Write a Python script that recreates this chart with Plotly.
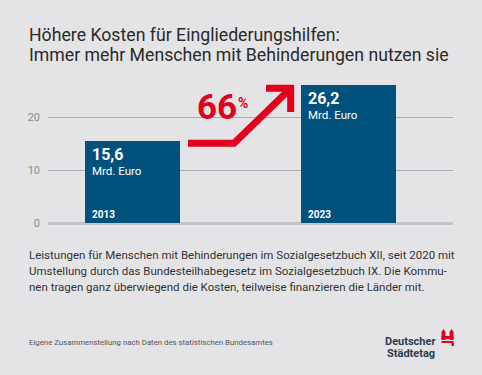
import plotly.graph_objects as go

# ---- data ----
years = [2013, 2023]
values = [15.6, 26.2]
value_labels = ["15,6", "26,2"]
unit_label = "Mrd. Euro"
change_label = "66"
y_ticks = [0, 10, 20]

title_lines = ["Höhere Kosten für Eingliederungshilfen:",
               "Immer mehr Menschen mit Behinderungen nutzen sie"]
body_lines = ["Leistungen für Menschen mit Behinderungen im Sozialgesetzbuch XII, seit 2020 mit",
              "Umstellung durch das Bundesteilhabegesetz im Sozialgesetzbuch IX. Die Kommu-",
              "nen tragen ganz überwiegend die Kosten, teilweise finanzieren die Länder mit."]
source_text = "Eigene Zusammenstellung nach Daten des statistischen Bundesamtes"

# ---- style ----
BG = "#e4e4e7"
BAR = "#00517b"
RED = "#e2001a"
FONT = "Roboto"
W, H = 482, 375
ML, MR, MT, MB = 48, 29, 75, 152
BAR_W = 4.41
XR = [2009.083, 2027.82]
YR = [0, 28]

def px_x(px):
    return (px - ML) / (W - ML - MR)

def px_y(py):
    return (H - MB - py) / (H - MT - MB)

fig = go.Figure()
fig.add_trace(go.Bar(x=years, y=values, width=BAR_W, marker=dict(color=BAR, line=dict(width=0)),
                     hoverinfo="skip"))

ann = []
# title
ann.append(dict(text=title_lines[0], x=px_x(27), y=px_y(35), xref="paper", yref="paper",
                xanchor="left", yanchor="middle", showarrow=False,
                font=dict(family=FONT, size=17.7, color="#2a2a2a")))
ann.append(dict(text=title_lines[1], x=px_x(27), y=px_y(55), xref="paper", yref="paper",
                xanchor="left", yanchor="middle", showarrow=False,
                font=dict(family=FONT, size=17.7, color="#2a2a2a")))
# body
for i, (line, cy) in enumerate(zip(body_lines, [255, 271, 287])):
    ann.append(dict(text=line, x=px_x(27), y=px_y(cy), xref="paper", yref="paper",
                    xanchor="left", yanchor="middle", showarrow=False,
                    font=dict(family=FONT, size=11.5, color="#333333")))
# source
ann.append(dict(text=source_text, x=px_x(27), y=px_y(342), xref="paper", yref="paper",
                xanchor="left", yanchor="middle", showarrow=False,
                font=dict(family=FONT, size=7.8, color="#555555")))
# logo text
ann.append(dict(text="<b>Deutscher</b>", x=px_x(437), y=px_y(341), xref="paper", yref="paper",
                xanchor="right", yanchor="middle", showarrow=False,
                font=dict(family=FONT, size=11, color="#2b3d4f")))
ann.append(dict(text="<b>Städtetag</b>", x=px_x(437), y=px_y(353), xref="paper", yref="paper",
                xanchor="right", yanchor="middle", showarrow=False,
                font=dict(family=FONT, size=11, color="#2b3d4f")))

# bar labels
for yr, v, lab in zip(years, values, value_labels):
    left = yr - BAR_W / 2
    ann.append(dict(text="<b>%s</b>" % lab, x=left, y=v, xref="x", yref="y", xanchor="left",
                    yanchor="middle", xshift=5, yshift=-14, showarrow=False,
                    font=dict(family=FONT, size=16, color="white")))
    ann.append(dict(text=unit_label, x=left, y=v, xref="x", yref="y", xanchor="left",
                    yanchor="middle", xshift=5, yshift=-30, showarrow=False,
                    font=dict(family=FONT, size=11.5, color="white")))
    ann.append(dict(text="<b>%d</b>" % yr, x=left, y=0, xref="x", yref="y", xanchor="left",
                    yanchor="middle", xshift=5, yshift=9, showarrow=False,
                    font=dict(family=FONT, size=10, color="white")))

# 66 %
ann.append(dict(text="<b>%s</b>" % change_label, x=px_x(195), y=px_y(107.5), xref="paper", yref="paper",
                xanchor="left", yanchor="middle", showarrow=False,
                font=dict(family=FONT, size=35, color=RED)))
ann.append(dict(text="<b>%</b>", x=px_x(236), y=px_y(103), xref="paper", yref="paper",
                xanchor="left", yanchor="middle", showarrow=False,
                font=dict(family=FONT, size=14, color=RED)))

shapes = []
# growth arrow (decoration, in data coords)
shapes.append(dict(type="path", xref="x", yref="y",
                   path="M 2015.56 15.08 L 2017.69 15.08 L 2020.31 25.48 M 2019.17 25.48 L 2020.31 25.48 L 2020.31 21.0",
                   line=dict(color=RED, width=7)))
# logo icon (simplified)
def rect(x0, y0, x1, y1):
    return dict(type="rect", xref="paper", yref="paper", x0=px_x(x0), x1=px_x(x1),
                y0=px_y(y1), y1=px_y(y0), line=dict(width=0), fillcolor=RED)
def poly(pts):
    p = "M " + " L ".join("%.4f %.4f" % (px_x(a), px_y(b)) for a, b in pts) + " Z"
    return dict(type="path", xref="paper", yref="paper", path=p, line=dict(width=0), fillcolor=RED)
shapes.append(poly([(441.5, 340), (441.5, 332), (443.5, 329), (445.5, 332), (445.5, 340)]))
shapes.append(poly([(449.5, 340), (449.5, 332), (451.5, 329), (453.5, 332), (453.5, 340)]))
shapes.append(rect(441.5, 336, 453.5, 339))
shapes.append(rect(441.5, 341, 453.5, 343))
shapes.append(rect(451.5, 343, 454, 346))

fig.update_layout(
    width=W, height=H, margin=dict(l=ML, r=MR, t=MT, b=MB),
    paper_bgcolor=BG, plot_bgcolor=BG, showlegend=False,
    annotations=ann, shapes=shapes, bargap=0,
    xaxis=dict(range=XR, visible=False, fixedrange=True),
    yaxis=dict(range=YR, tickvals=y_ticks, ticktext=[str(t) for t in y_ticks],
               showgrid=True, gridcolor="#aaaab0", gridwidth=1,
               zeroline=True, zerolinecolor="#c4c4c8", zerolinewidth=3,
               showline=False, ticks="", ticklabelstandoff=7,
               tickfont=dict(family=FONT, size=11, color="#8c8c92"), fixedrange=True),
    font=dict(family=FONT),
)
fig.write_html("out.html", config=dict(displayModeBar=False),
               post_script="document.body.style.margin='0';document.body.style.overflow='hidden';")
